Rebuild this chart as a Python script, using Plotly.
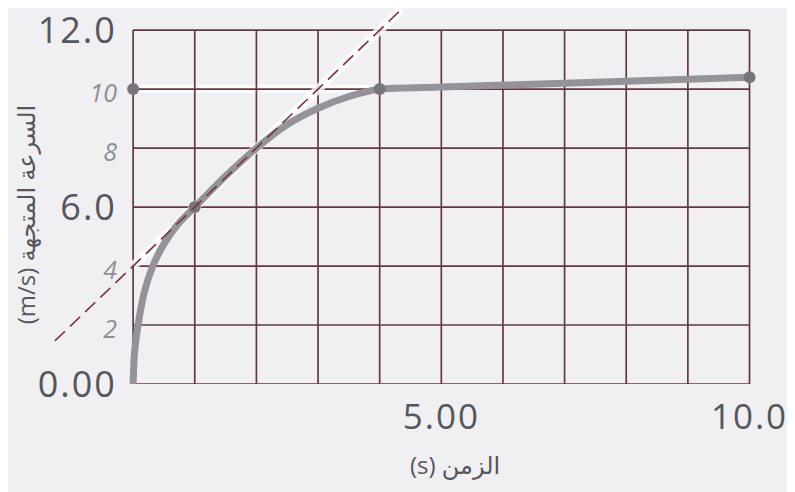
import plotly.graph_objects as go

# ---- data ----
time_s = [0, 0.02, 0.08, 0.18, 0.32, 0.5, 0.72, 1.0, 1.5, 2.0, 2.5, 3.0, 3.5, 4.0, 5.0, 7.0, 10.0]
velocity = [0, 1.0, 2.0, 3.1, 4.0, 4.75, 5.4, 6.0, 7.05, 8.0, 8.8, 9.35, 9.75, 10.0, 10.07, 10.2, 10.4]

point_t = [0, 1, 4, 10]
point_v = [10, 6, 10, 10.4]

tangent_t = [-1.27, 4.35]
tangent_v = [1.46, 12.7]

x_grid = list(range(0, 11))
y_grid = [0, 2, 4, 6, 8, 10, 12]

x_tickvals = [5, 10]
x_ticktext = ["5.00", "10.0"]
y_tickvals = [0, 2, 4, 6, 8, 10, 12]
PR = "<span style='letter-spacing:2px'>{}</span>"
HW = "<span style='color:#8e8e96;font-size:25px;font-style:italic'>{}</span>"
y_ticktext = [PR.format("0.00"), HW.format("2"), HW.format("4"), PR.format("6.0"),
              HW.format("8"), HW.format("10"), PR.format("12.0")]

x_title = "(s) الزمن"
y_title = "(m/s) السرعة المتجهة"

X_RANGE = [-1.3, 10.3]
Y_RANGE = [0, 12.75]

BG = "#f0f0f2"
GRID = "#633844"
FONT = "Open Sans, DejaVu Sans, sans-serif"
TXT = "#56565c"

fig = go.Figure()

# whitish "erasure" strip along the tangent (from the y-axis crossing upward)
fig.add_trace(go.Scatter(x=[x_grid[0], tangent_t[1]], y=[y_grid[2], tangent_v[1]], mode="lines",
                         line=dict(color="rgba(255,255,255,0.8)", width=9),
                         hoverinfo="skip", showlegend=False))
# velocity curve
fig.add_trace(go.Scatter(x=time_s, y=velocity, mode="lines",
                         line=dict(color="#949498", width=7, shape="spline", smoothing=0.6),
                         showlegend=False))
# points
fig.add_trace(go.Scatter(x=point_t, y=point_v, mode="markers",
                         marker=dict(color="#76767a", size=12),
                         showlegend=False))
# tangent dashed line
fig.add_trace(go.Scatter(x=tangent_t, y=tangent_v, mode="lines",
                         line=dict(color="#7a3345", width=1.6, dash="14px,7px"),
                         showlegend=False))

shapes = []
# erased strip on the y=10 line up to the plateau start
shapes.append(dict(type="line", xref="x", yref="y", x0=x_grid[0], x1=time_s[-4],
                   y0=y_grid[5], y1=y_grid[5], layer="below",
                   line=dict(color="rgba(255,255,255,0.75)", width=8)))
for xv in x_grid:
    shapes.append(dict(type="line", xref="x", yref="y", x0=xv, x1=xv,
                       y0=y_grid[0], y1=y_grid[-1], layer="below",
                       line=dict(color=GRID, width=1.7)))
for yv in y_grid:
    shapes.append(dict(type="line", xref="x", yref="y", x0=x_grid[0], x1=x_grid[-1],
                       y0=yv, y1=yv, layer="below",
                       line=dict(color=GRID, width=1.7)))

y_pos = (0 - X_RANGE[0]) / (X_RANGE[1] - X_RANGE[0])

fig.update_layout(
    width=795, height=492,
    margin=dict(l=45, r=35, t=0, b=116, autoexpand=False),
    paper_bgcolor=BG, plot_bgcolor=BG,
    shapes=shapes,
    font=dict(family=FONT, color=TXT),
    xaxis=dict(range=X_RANGE, showgrid=False, zeroline=False, showline=False,
               automargin=False, ticklabeloverflow="allow",
               tickvals=x_tickvals, ticktext=[PR.format(t) for t in x_ticktext],
               ticks="outside", ticklen=2, tickcolor="rgba(0,0,0,0)",
               tickfont=dict(size=35, color=TXT, family=FONT)),
    yaxis=dict(range=Y_RANGE, showgrid=False, zeroline=False, showline=False,
               automargin=False, anchor="free", position=y_pos,
               ticklabeloverflow="allow",
               tickvals=y_tickvals, ticktext=y_ticktext,
               ticks="outside", ticklen=9, tickcolor="rgba(0,0,0,0)",
               tickfont=dict(size=36, color=TXT, family=FONT)),
    annotations=[
        dict(text=x_title, xref="paper", yref="paper", x=0.562, y=-0.215,
             xanchor="center", yanchor="middle",
             showarrow=False, font=dict(size=24, color=TXT, family=FONT)),
        dict(text=y_title, xref="paper", yref="paper", x=-0.039, y=0.449,
             xanchor="center", yanchor="middle",
             textangle=-90, showarrow=False,
             font=dict(size=24, color=TXT, family=FONT)),
    ],
)

fig.write_html("out.html")
